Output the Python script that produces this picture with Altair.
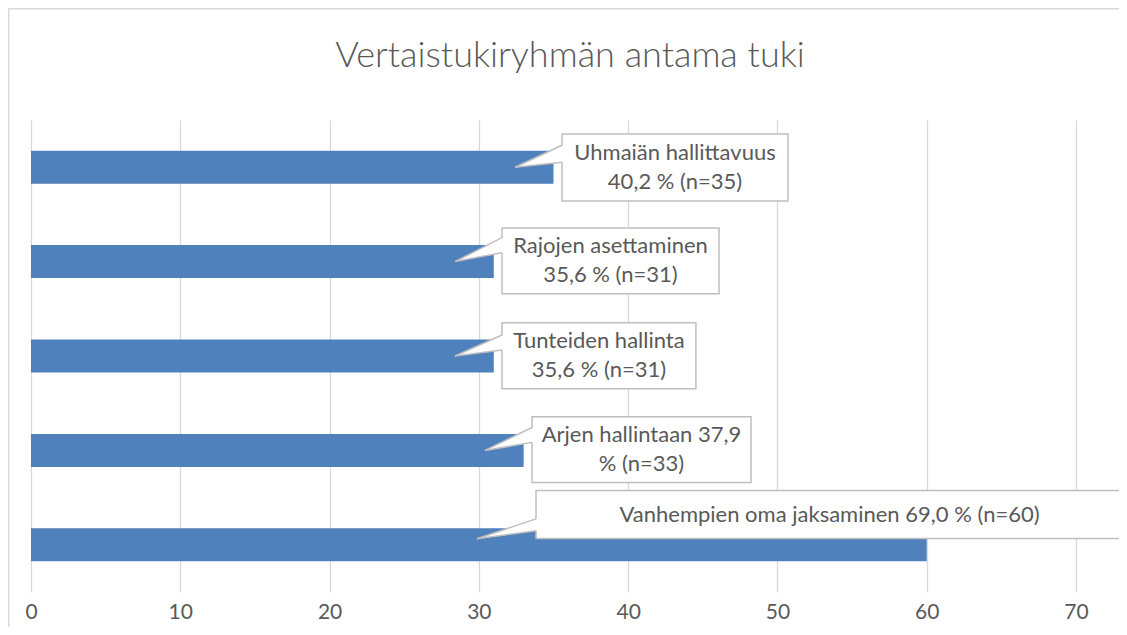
import altair as alt
import pandas as pd

# ---------------- data ----------------
title_text = "Vertaistukiryhmän antama tuki"
categories = [
    "Uhmaiän hallittavuus",
    "Rajojen asettaminen",
    "Tunteiden hallinta",
    "Arjen hallintaan",
    "Vanhempien oma jaksaminen",
]
values = [35, 31, 31, 33, 60]
label_lines = [
    ["Uhmaiän hallittavuus", "40,2 % (n=35)"],
    ["Rajojen asettaminen", "35,6 % (n=31)"],
    ["Tunteiden hallinta", "35,6 % (n=31)"],
    ["Arjen hallintaan 37,9", "% (n=33)"],
    ["Vanhempien oma jaksaminen 69,0 % (n=60)"],
]
x_ticks = [0, 10, 20, 30, 40, 50, 60, 70]

# ------------- callout layout (data units; y relative to bar index) -------------
box_left = [35.57, 31.55, 31.55, 33.56, 33.83]
box_right = [50.71, 46.09, 44.54, 48.23, 73.15]
box_top = [-0.352, -0.357, -0.352, -0.357, -0.574]
box_bottom = [0.357, 0.341, 0.347, 0.341, -0.066]
tip_x = [32.42, 28.40, 28.40, 30.41, 29.87]
tip_dy = [0.0, 0.0, 0.0, 0.0, -0.064]
base_top = [-0.233, -0.254, -0.222, -0.243, -0.275]
base_bot = [-0.053, -0.095, -0.063, -0.085, -0.148]
BAR_HALF = 0.175

# ------------- styles -------------
FONT = "Lato"
TEXT_COLOR = "#595959"
BAR_COLOR = "#4F81BD"
GRID_COLOR = "#d9d9d9"
BOX_STROKE = "#bfbfbf"
LABEL_SIZE = 22
TICK_LABEL_SIZE = 21
LINE_HEIGHT = 29
PLOT_W, PLOT_H = 1045, 472
Y_UNIT_PX = PLOT_H / 5.0

xs = alt.Scale(domain=[0, 70], nice=False, zero=False)
ys = alt.Scale(domain=[-0.5, 4.5], reverse=True, nice=False, zero=False)

x_axis = alt.Axis(
    values=x_ticks, grid=True, gridColor=GRID_COLOR, gridWidth=1.3,
    domain=False, ticks=False, tickSize=0, labelFontSize=TICK_LABEL_SIZE, labelColor=TEXT_COLOR,
    labelFont=FONT, labelPadding=9, labelFlush=False, title=None,
)

n = len(categories)
bars_df = pd.DataFrame({"idx": list(range(n)), "category": categories, "value": values,
                        "zero": [0] * n})

box_df = pd.DataFrame({
    "idx": list(range(n)),
    "x0": box_left,
    "x1": box_right,
    "y0": [i + t for i, t in enumerate(box_top)],
    "y1": [i + b for i, b in enumerate(box_bottom)],
    "label": ["\n".join(l) for l in label_lines],
    "nlines": [len(l) for l in label_lines],
})
box_df["cx"] = (box_df["x0"] + box_df["x1"]) / 2
box_df["cy"] = (box_df["y0"] + box_df["y1"]) / 2 - (box_df["nlines"] - 1) * (LINE_HEIGHT / 2) / Y_UNIT_PX

tri_rows = []
edge_rows = []
for i in range(n):
    ty = i + tip_dy[i]
    tri_rows.append({"id": i, "x": tip_x[i], "ya": ty, "yb": ty})
    tri_rows.append({"id": i, "x": box_left[i] + 0.08, "ya": i + base_top[i], "yb": i + base_bot[i]})
    edge_rows.append({"x": tip_x[i], "y": ty, "x2": box_left[i], "y2": i + base_top[i]})
    edge_rows.append({"x": tip_x[i], "y": ty, "x2": box_left[i], "y2": i + base_bot[i]})
tri_df = pd.DataFrame(tri_rows)
edge_df = pd.DataFrame(edge_rows)

bars = alt.Chart(bars_df).transform_calculate(
    y0=f"datum.idx - {BAR_HALF}", y1=f"datum.idx + {BAR_HALF}"
).mark_rect(color=BAR_COLOR).encode(
    x=alt.X("zero:Q", scale=xs, axis=x_axis),
    x2="value:Q",
    y=alt.Y("y0:Q", scale=ys, axis=None),
    y2="y1:Q",
)

boxes = alt.Chart(box_df).mark_rect(
    fill="white", stroke=BOX_STROKE, strokeWidth=1.5
).encode(
    x=alt.X("x0:Q", scale=xs, axis=x_axis), x2="x1:Q",
    y=alt.Y("y0:Q", scale=ys, axis=None), y2="y1:Q",
)

pointers = alt.Chart(tri_df).mark_area(
    color="white", opacity=1, orient="vertical"
).encode(
    x=alt.X("x:Q", scale=xs, axis=x_axis),
    y=alt.Y("ya:Q", scale=ys, axis=None),
    y2="yb:Q",
    detail="id:N",
)

edges = alt.Chart(edge_df).mark_rule(color=BOX_STROKE, strokeWidth=1.5).encode(
    x=alt.X("x:Q", scale=xs, axis=x_axis), x2="x2:Q",
    y=alt.Y("y:Q", scale=ys, axis=None), y2="y2:Q",
)

labels = alt.Chart(box_df).mark_text(
    font=FONT, fontSize=LABEL_SIZE, color=TEXT_COLOR, align="center", baseline="middle",
    lineBreak="\n", lineHeight=LINE_HEIGHT,
).encode(
    x=alt.X("cx:Q", scale=xs, axis=x_axis),
    y=alt.Y("cy:Q", scale=ys, axis=None),
    text="label:N",
)

title = alt.Chart(pd.DataFrame({"t": [title_text]})).mark_text(
    font=FONT, fontSize=36, fontWeight=300, color=TEXT_COLOR, align="center", baseline="alphabetic",
).encode(x=alt.value(539), y=alt.value(-53), text="t:N")

frame = alt.Chart(pd.DataFrame({"a": [0]})).mark_rect(
    filled=False, stroke=GRID_COLOR, strokeWidth=1.5
).encode(x=alt.value(-22.2), x2=alt.value(1300), y=alt.value(-111.2), y2=alt.value(800))

chart = alt.layer(frame, bars, boxes, pointers, edges, labels, title).properties(
    width=PLOT_W, height=PLOT_H,
    autosize=alt.AutoSizeParams(type="none"),
    padding={"left": 23, "top": 112, "right": 43, "bottom": 35},
    background="white",
).configure_view(stroke=None)

chart.save("out.html", embed_options={"renderer": "svg", "actions": False})
